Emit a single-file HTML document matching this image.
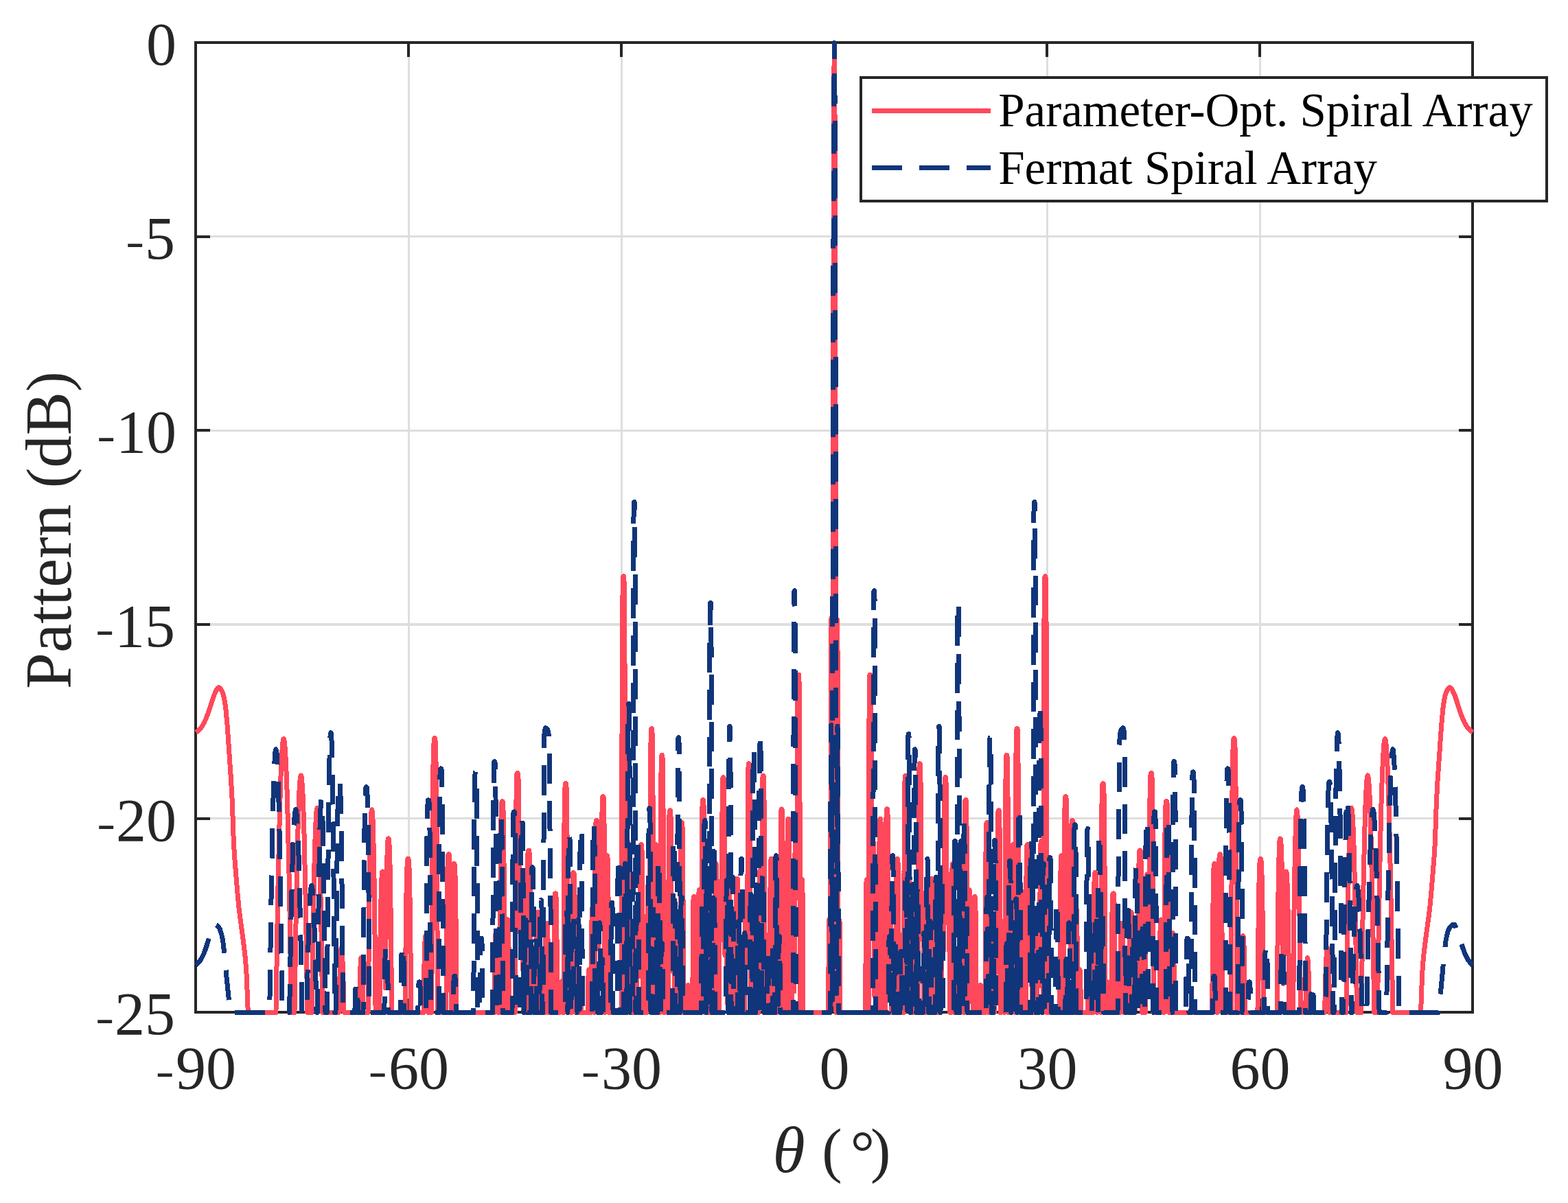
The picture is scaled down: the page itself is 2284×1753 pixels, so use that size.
<!DOCTYPE html>
<html lang="en"><head><meta charset="utf-8">
<title>Pattern (dB) vs θ — Spiral Array Comparison</title>
<style>
html,body{margin:0;padding:0;background:#fff;}
body{width:2284px;height:1753px;overflow:hidden;}
svg{display:block;}
text{font-family:"Liberation Serif","Times New Roman",serif;fill:#262626;}
.tick{font-size:88px;}
.lab{font-size:95px;}
.par{font-size:88px;}
.hy{font-size:64px;}
.leg{font-size:69px;fill:#000;}
</style></head><body>
<svg width="2284" height="1753" viewBox="0 0 2284 1753" shape-rendering="crispEdges">
<rect x="0" y="0" width="2284" height="1753" fill="#fff"/>
<path d="M595.3 62.0V1475.4M905.3 62.0V1475.4M1215.4 62.0V1475.4M1525.4 62.0V1475.4M1835.4 62.0V1475.4M285.3 344.7H2145.4M285.3 627.4H2145.4M285.3 910.0H2145.4M285.3 1192.7H2145.4" fill="none" stroke="#dedede" stroke-width="3.3"/>
<path d="M595.3 62.0v20.5M595.3 1475.4v-20.5M905.3 62.0v20.5M905.3 1475.4v-20.5M1215.4 62.0v20.5M1215.4 1475.4v-20.5M1525.4 62.0v20.5M1525.4 1475.4v-20.5M1835.4 62.0v20.5M1835.4 1475.4v-20.5M285.3 344.7h20.5M2145.4 344.7h-20.5M285.3 627.4h20.5M2145.4 627.4h-20.5M285.3 910.0h20.5M2145.4 910.0h-20.5M285.3 1192.7h20.5M2145.4 1192.7h-20.5" fill="none" stroke="#262626" stroke-width="4"/>
<rect x="285.3" y="62.0" width="1860.1" height="1413.4" fill="none" stroke="#262626" stroke-width="4"/>
<g fill="none" stroke-linejoin="round" stroke-linecap="butt">
<path id="red" d="M285.3 1067L288 1065.4L291.3 1062.4L294.6 1058L297.3 1053.2L299.6 1048.3L302.3 1041.4L311.6 1013.4L315 1006L317 1002.8L318.3 1001.8L319.3 1001.8L320.6 1002.7L322 1004.8L323.8 1008.1L324.8 1010.6L325.8 1014.3L326.8 1019.3L328.3 1028.3L329 1034.5L331.3 1059.2L336.6 1137L338.3 1168.2L340.3 1226.4L341.6 1248.1L345.8 1299.6L347.8 1321.1L349.6 1335.9L353.8 1366.7L356.6 1389.3L357.8 1401.7L359.3 1423.4L361.3 1475.4L401.8 1475.4L402 1472L403.8 1357.7L405.3 1275.2L407.8 1169.4L409 1131.5L410.6 1099L411.8 1082.9L412.6 1078L413 1076.8L413.3 1076.7L413.6 1077.1L414 1079L414.8 1084.8L416 1102.5L417.6 1136.9L418.8 1176.4L421.3 1285.3L424.3 1468.5L424.6 1475.4L428.8 1475.4L429 1472.8L431.3 1327.6L433.6 1222.2L434.8 1180.8L436 1151.7L437 1137.1L437.8 1131.4L438.3 1130L438.6 1130.1L439 1131.7L439.6 1135.2L440.6 1148.1L441.8 1175.3L443 1214.8L445.3 1316.7L447.8 1475.4L454 1475.4L454.3 1471.4L456.3 1338.6L458.3 1245.5L459.3 1213.8L460.3 1192L461 1182.2L461.6 1178.7L461.8 1177.9L462 1177.7L462.6 1179.2L463 1183.2L463.8 1193.7L464.8 1216.5L465.8 1249.2L467.8 1344.3L469.8 1475.4L493.6 1475.4L493.8 1472.4L494.8 1428.7L495.6 1405.2L496.6 1386.2L496.8 1383.6L497.3 1381.2L497.6 1381.3L497.8 1382.2L498.3 1386.8L499.3 1406.5L500.3 1440.3L501 1474.9L501.3 1475.4L523 1475.4L524.6 1417.3L525.3 1401.5L525.8 1396.6L526 1395.8L526.3 1396.2L526.8 1400.2L527.6 1414.6L528.3 1439.2L529 1473.8L529.3 1475.4L536 1475.4L536.3 1471L537.8 1322.8L539 1241.3L540.3 1195.2L541 1182.8L541.3 1181L541.6 1180.1L541.8 1180L542.3 1182.4L542.6 1185.1L543.3 1200.3L544.6 1251.9L545.6 1318.9L547 1465.2L547.3 1475.4L552.6 1475.4L552.8 1471L553.8 1378.5L554.8 1317.2L555.8 1283L556.3 1274.5L556.8 1270.7L557 1270.1L557.3 1270L557.6 1270.5L558.3 1277.3L559.3 1304.3L560.3 1357L561.3 1439.8L562.3 1341.4L563.3 1273.5L563.8 1251.5L564.6 1231.1L565 1224.5L565.3 1222.8L565.6 1222.1L565.8 1221.9L566 1222.1L566.3 1222.8L566.6 1224.5L567 1231.1L567.8 1251.5L568.3 1273.5L569.6 1363.8L570.6 1475.4L590.3 1475.4L591 1381.8L592 1301.5L593 1263L593.8 1252.9L594 1251.8L594.3 1251.4L594.6 1251.4L594.8 1251.5L595 1252.2L595.3 1253.6L595.8 1259.9L596.3 1272.6L596.8 1293.4L597.8 1366.5L598.8 1475.4L617 1475.4L617.8 1414L618.6 1380L619.3 1366.3L619.8 1363.9L620.3 1363.7L620.6 1363.9L620.8 1364.5L621.3 1368.5L622 1386.7L622.8 1427.8L623.3 1472.6L623.6 1475.4L628.6 1475.4L628.8 1466.7L629.6 1291L630.6 1152.5L631 1114.6L631.6 1091.9L632.3 1077.7L632.6 1076.2L632.8 1075.7L633 1075.6L633.6 1075.9L634 1079.2L634.6 1088.9L635 1109L635.6 1143.5L636.6 1272.6L637.6 1475.4L649.8 1475.4L650.8 1338.7L651.6 1278.8L652.3 1252.4L652.8 1246.3L653 1245.2L653.3 1244.8L653.6 1244.7L654 1244.9L654.3 1245.7L654.8 1250.7L655.3 1263.2L655.8 1287.6L656.6 1356.1L657.3 1475.4L657.8 1475.4L658.6 1362.2L659.3 1296.3L660 1267.2L660.6 1260.3L660.8 1259L661 1258.5L661.3 1258.4L661.8 1258.6L662 1259.2L662.6 1263.6L663 1275.5L663.6 1299.3L664.3 1368.3L665 1475.4L719.8 1475.4L720 1472L720.6 1412.1L721 1379.5L721.3 1370.5L721.8 1361.6L722.3 1359.4L722.8 1359.3L723 1359.4L723.3 1359.8L723.8 1364L724.3 1377.4L725.6 1475.4L728 1475.4L728.8 1312.3L729.6 1213.8L730.3 1176.3L730.8 1169.1L731 1168L731.6 1167.6L732 1167.8L732.6 1170.4L733 1180.6L733.8 1227.4L734.6 1342.8L735 1475.4L736.3 1475.4L737 1387.6L737.6 1356.9L738 1343.9L738.6 1340.3L739 1339.9L739.6 1340.1L740 1342.7L740.6 1353.2L740.8 1363.8L741.3 1401.9L741.8 1471.9L742 1475.4L750.3 1475.4L751 1288.4L751.8 1175.5L752.6 1134.8L753 1127.6L753.3 1126.7L753.8 1126.4L754.3 1126.7L754.8 1130L755.3 1143.1L755.6 1156.1L756.3 1239.7L756.8 1350.9L757 1358.5L757.6 1307.8L758.3 1278.3L758.8 1274L759 1273.6L759.6 1273.6L759.8 1273.7L760 1274.3L760.6 1279.8L760.8 1286.5L761.6 1337.9L762.3 1470.8L762.6 1475.4L767 1475.4L767.8 1323.8L768.3 1272.3L768.6 1257.9L769 1243.3L769.6 1239.4L770 1239L770.6 1239.2L771 1241.9L771.6 1253.6L771.8 1265.8L772.3 1310.6L773 1442.6L773.6 1402.4L774 1385.6L774.3 1382.3L774.6 1380.8L774.8 1380.4L775.6 1380.4L775.8 1381L776 1382.6L776.6 1393L776.8 1404.2L777.6 1475.4L780.6 1475.4L781.3 1381.7L781.8 1346.4L782.3 1332.6L782.8 1329.3L783.3 1329L783.8 1329.3L784.3 1332.6L784.8 1346.4L785.3 1381.7L786 1475.4L787.3 1475.4L787.6 1474.8L788.3 1416.5L788.8 1405.2L789 1403.5L789.3 1402.9L789.8 1402.8L790 1402.8L790.3 1403.3L790.6 1404.7L791 1414.5L791.8 1467.8L792 1475.4L793.8 1475.4L794 1468.1L794.6 1395.8L795 1361.2L795.6 1348.4L795.8 1346.2L796 1345.5L796.6 1345.3L797 1345.7L797.6 1349.8L798 1365.9L798.6 1406.6L799 1475.4L800 1475.4L801 1416L801.6 1409.2L801.8 1408.4L802.3 1408.2L802.8 1408.6L803 1409.8L803.6 1418.7L804.3 1470.8L804.6 1475.4L806.3 1475.4L807.3 1332.8L807.6 1318.4L808 1304.9L808.3 1302.7L808.6 1302L809 1301.8L809.3 1301.8L809.6 1302.2L810 1306.5L810.6 1323.4L811 1366.5L811.8 1475.4L815.6 1475.4L816.3 1438.9L816.8 1431.8L817 1431L817.6 1430.8L817.8 1430.8L818 1431.2L818.6 1435.6L819 1453L819.3 1470.9L819.6 1475.4L820.8 1475.4L822 1198.8L822.8 1149.9L823.3 1142.6L823.6 1141.8L824 1141.6L824.3 1141.6L824.6 1142L825 1146.5L825.6 1164.6L825.8 1183.2L826.6 1307.6L827 1475.4L827.3 1475.4L827.8 1408.2L828.3 1374.8L828.8 1363.6L829 1362L829.3 1361.6L829.6 1361.5L830 1361.6L830.3 1362.2L830.6 1364.2L831 1377L831.6 1413.8L832 1475.4L832.6 1475.4L832.8 1458.7L833.3 1351.2L833.8 1298.3L834.3 1277.5L834.8 1272L835 1271.6L835.3 1271.5L835.8 1271.6L836 1272.2L836.3 1274.2L836.8 1287.2L837 1301.9L837.6 1359L838 1473.5L838.3 1475.4L842.8 1475.4L843.6 1437.1L844 1428.4L844.3 1427.4L844.8 1427.2L845.3 1427.5L845.8 1431.9L846.8 1475.4L856.3 1475.4L857 1421.6L857.6 1413.7L857.8 1412.8L858.3 1412.7L858.6 1412.7L858.8 1413.2L859.3 1418.6L860.3 1475.4L860.8 1475.4L861.8 1350.1L862.3 1328.4L862.8 1323L863 1322.6L863.3 1322.5L863.8 1322.7L864 1323.6L864.3 1326.3L864.8 1342.9L865.3 1389.3L865.8 1475.4L866 1470.1L866.8 1272.3L867.3 1219.8L867.8 1200.3L868.3 1195.8L868.6 1195.5L869 1195.5L869.3 1195.8L869.6 1197L870 1207.2L870.3 1219.8L870.8 1272.3L871.3 1383.1L872 1285.9L872.6 1258.1L873 1250.4L873.3 1249.6L873.6 1249.5L874 1249.6L874.3 1250.1L874.8 1256.7L875.3 1281.7L875.8 1344.9L876.8 1193.4L877.3 1167.9L877.8 1161.2L878 1160.7L878.3 1160.6L878.8 1160.7L879 1161.5L879.3 1163.9L879.8 1179.8L880 1197.7L880.6 1267.6L881.3 1475.4L881.6 1475.4L882 1356.2L882.6 1284.6L882.8 1266.2L883.3 1249.9L883.6 1247.4L883.8 1246.6L884.3 1246.5L884.6 1246.6L884.8 1247.2L885.3 1254L885.8 1280.1L886.3 1346.4L886.8 1475.4L905.3 1475.4L906 1072.6L906.6 920.5L906.8 881.6L907.3 846.9L907.6 841.6L907.8 840L908.3 839.7L908.6 839.9L908.8 841.1L909.3 855.7L909.8 911.1L910 967.4L911 1475.4L911.8 1309.1L912.3 1251L912.8 1230.1L913 1226.8L913.3 1225.6L913.8 1225.4L914 1225.4L914.3 1225.9L914.8 1232.4L915.3 1258.7L915.8 1327.2L916.3 1456.3L917 1362.2L917.6 1345.9L917.8 1343.6L918 1343L918.6 1342.9L918.8 1343L919 1344L919.3 1346.8L919.8 1365.7L920.6 1469.5L920.8 1475.4L922.6 1475.4L923.3 1424.2L923.8 1413.8L924 1412.7L924.6 1412.5L924.8 1412.6L925 1413.2L925.6 1420.4L926.3 1475.4L927.6 1475.4L928 1395L928.3 1373.3L928.8 1354L929 1351.1L929.3 1350.2L929.6 1350L930 1350.1L930.3 1350.9L930.6 1353.3L930.8 1359.1L931.3 1390.6L931.6 1422.4L932 1320.4L932.6 1258L933 1235.6L933.3 1232L933.6 1230.8L933.8 1230.5L934.3 1230.6L934.6 1231.1L934.8 1233L935 1238.1L935.6 1266.4L936 1340.3L936.6 1475.4L937.8 1475.4L938.6 1411.3L939 1398.1L939.3 1396.6L939.6 1396.2L939.8 1396.2L940 1396.2L940.3 1396.6L940.8 1402.7L941.3 1429L941.8 1475.4L942.3 1475.4L943 1332.9L943.3 1311.3L943.8 1292.3L944 1289.6L944.3 1288.7L944.8 1288.6L945 1288.7L945.3 1289.6L945.6 1292.5L945.8 1299.2L946.3 1334.2L946.6 1369.3L947.3 1168.6L947.8 1093.1L948.3 1067L948.6 1063.1L948.8 1061.8L949.3 1061.6L949.6 1061.7L949.8 1062.7L950.3 1073.6L950.8 1115.4L951.3 1221.2L951.8 1436.6L952 1475.4L952.3 1475.4L952.8 1333.3L953.3 1262.5L953.8 1236.4L954.3 1230.6L954.6 1230.2L954.8 1230.2L955 1230.2L955.3 1230.7L955.8 1237.3L956.3 1265.5L956.8 1340.4L957.3 1475.4L961.6 1475.4L962.6 1173.5L962.8 1139.8L963.3 1108.1L963.8 1100.8L964 1100.3L964.3 1100.3L964.6 1100.3L964.8 1100.8L965.3 1108.1L965.8 1139.8L966 1173.5L967 1475.4L968.3 1475.4L968.8 1397L969.3 1355.9L969.8 1344.3L970 1343.1L970.6 1342.9L970.8 1342.9L971 1343.7L971.6 1352.5L972 1386.7L972.6 1474.3L972.8 1475.4L973.3 1475.4L974 1283.6L974.6 1212.2L975 1186.6L975.3 1182.5L975.6 1181.1L976 1180.8L976.3 1180.9L976.6 1181.5L977 1189.4L977.6 1221.8L978.6 1414.8L978.8 1384.2L979.3 1355.5L979.8 1348.9L980 1348.5L980.6 1348.5L980.8 1349L981 1350.9L981.6 1366.5L981.8 1385.7L982.3 1465.4L982.6 1475.4L985.8 1475.4L986 1469.3L986.8 1360.5L987.3 1342.5L987.6 1340.2L987.8 1339.6L988 1339.5L988.6 1339.8L988.8 1341.3L989.3 1354.8L990.3 1475.4L990.6 1475.4L991 1330.1L991.6 1241.5L992 1207.6L992.6 1199.2L992.8 1198.6L993 1198.5L993.3 1198.5L993.6 1198.8L993.8 1200.3L994 1204.6L994.6 1231.4L995 1306.3L995.6 1467L995.8 1475.4L1000.8 1475.4L1001.6 1439.5L1001.8 1436.5L1002 1435.6L1002.3 1435.5L1002.8 1435.7L1003 1436.9L1003.3 1440.5L1004 1475.4L1008.6 1475.4L1008.8 1458.2L1009.6 1332.4L1010 1310.6L1010.3 1307.5L1010.6 1306.6L1010.8 1306.5L1011.3 1306.7L1011.6 1307.9L1011.8 1311.6L1012.3 1336.5L1013 1473.1L1013.8 1407.5L1014.3 1395.3L1014.6 1394.1L1014.8 1393.9L1015.3 1394L1015.6 1394.9L1015.8 1398L1016.3 1420.2L1016.6 1445.8L1016.8 1434.3L1017.6 1318.6L1018 1299.7L1018.3 1297.3L1018.6 1296.7L1018.8 1296.6L1019 1296.6L1019.3 1297L1019.6 1298.6L1020 1313.6L1020.6 1364.5L1021 1475.4L1021.6 1475.4L1022 1307.5L1022.6 1211.9L1023 1175.3L1023.6 1166.2L1023.8 1165.6L1024 1165.5L1024.3 1165.5L1024.6 1165.8L1024.8 1167.4L1025 1172.1L1025.6 1201.1L1026 1281.8L1026.6 1455.3L1026.8 1475.4L1027 1475.4L1027.6 1373.6L1028 1313.4L1028.6 1294.3L1028.8 1291.9L1029 1291.3L1029.3 1291.3L1029.6 1291.3L1029.8 1291.6L1030 1293.4L1030.3 1298.4L1030.8 1328.9L1031.6 1475.4L1032.6 1403.9L1032.8 1399.4L1033 1397.9L1033.3 1397.6L1033.6 1397.6L1033.8 1397.6L1034 1398.4L1034.6 1408L1035.3 1475.4L1036.6 1475.4L1037.3 1397.6L1037.8 1384.4L1038 1383.1L1038.6 1382.9L1038.8 1383L1039 1384L1039.6 1394.9L1040.3 1475.4L1041.3 1290.6L1041.8 1263.9L1042 1259.9L1042.3 1258.6L1042.8 1258.4L1043 1258.5L1043.3 1259.5L1043.6 1262.8L1044 1286.2L1044.6 1356.4L1045 1475.4L1047.3 1475.4L1047.8 1357L1048.3 1302.1L1048.8 1285.9L1049 1284L1049.3 1283.7L1049.8 1283.7L1050 1284.3L1050.3 1286.9L1050.8 1306.8L1051.3 1369.8L1052 1183.9L1052.6 1143.4L1053 1133.4L1053.3 1132.7L1053.6 1132.6L1053.8 1132.6L1054 1133L1054.3 1134.7L1054.6 1139.8L1055 1171.9L1056 1392L1056.3 1377.9L1056.8 1368.2L1057 1367.5L1057.6 1367.5L1057.8 1367.8L1058 1369.5L1058.3 1374.5L1058.8 1405.6L1059.3 1462L1060 1322.1L1060.6 1297.8L1060.8 1294.4L1061 1293.4L1061.6 1293.3L1061.8 1293.5L1062 1294.8L1062.3 1299L1062.8 1326.6L1063.6 1475.4L1066.3 1475.4L1066.6 1473.4L1066.8 1424L1067.3 1374.3L1067.8 1360.6L1068 1359.2L1068.6 1359L1068.8 1359.1L1069 1360.1L1069.6 1371.9L1070.6 1475.4L1071.6 1475.4L1072 1363.2L1072.6 1301.7L1073 1282.9L1073.3 1280.7L1073.6 1280.1L1074 1280.1L1074.3 1280.7L1074.6 1282.9L1074.8 1289L1075.3 1325L1076 1475.4L1076.8 1404.1L1077.3 1390.6L1077.6 1389.3L1078 1389.1L1078.3 1389.2L1078.6 1390.3L1079 1402.7L1079.8 1475.4L1081 1475.4L1081.3 1468.8L1081.8 1437.2L1082 1432.2L1082.3 1430.5L1082.6 1430.2L1082.8 1430.2L1083 1430.3L1083.3 1431.1L1083.6 1434.1L1084.3 1475.4L1084.8 1475.4L1085.3 1362.9L1085.6 1332.7L1086 1306.3L1086.3 1302.6L1086.6 1301.4L1087 1301.3L1087.3 1301.5L1087.6 1302.7L1087.8 1306.8L1088.3 1334.5L1088.6 1365.9L1089.6 1145.9L1090 1117.9L1090.3 1114L1090.6 1112.9L1090.8 1112.7L1091.3 1113L1091.6 1114.5L1091.8 1119.3L1092.3 1151.1L1092.8 1243L1093.3 1444.5L1093.6 1475.4L1093.8 1475.4L1094.6 1337L1095 1313.5L1095.3 1310.3L1095.6 1309.4L1095.8 1309.4L1096 1309.4L1096.3 1309.7L1096.6 1311.3L1097 1327.3L1097.6 1382.7L1098 1475.4L1104.8 1475.4L1105.8 1296.6L1106.3 1272.7L1106.6 1269.5L1106.8 1268.6L1107.3 1268.5L1107.6 1268.8L1107.8 1270.5L1108.3 1286.6L1108.8 1342.9L1109.3 1454.8L1109.8 1257.8L1110.3 1167.9L1110.8 1136.7L1111 1132L1111.3 1130.6L1111.8 1130.3L1112 1130.4L1112.3 1131.6L1112.8 1144.6L1113.3 1194.4L1114.3 1475.4L1117 1475.4L1117.8 1379.4L1118.3 1364.3L1118.6 1362.8L1118.8 1362.5L1119.3 1362.7L1119.6 1363.7L1120 1376L1120.6 1423.4L1120.8 1471.6L1121 1475.4L1121.3 1473.4L1122 1293.3L1122.6 1259.1L1122.8 1253.7L1123 1251.8L1123.3 1251.4L1123.6 1251.4L1123.8 1251.5L1124 1252.3L1124.3 1255.3L1124.8 1278.5L1125.3 1350.9L1125.8 1475.4L1128.8 1475.4L1129.6 1428.5L1129.8 1424.1L1130 1422.7L1130.6 1422.4L1130.8 1422.6L1131 1423.7L1131.3 1427.5L1132 1475.4L1132.3 1475.4L1132.6 1470L1133 1370.3L1133.3 1346.7L1133.8 1328.1L1134 1325.9L1134.3 1325.5L1134.8 1325.5L1135 1326.2L1135.6 1336.2L1136 1377.9L1136.3 1421.5L1136.8 1279.9L1137.3 1206.4L1137.8 1182.8L1138 1179.8L1138.3 1179L1138.6 1178.9L1138.8 1178.9L1139 1179.3L1139.3 1181.2L1139.6 1186.7L1140 1221.4L1141 1475.4L1141.3 1475.4L1141.8 1382.2L1142.3 1325.2L1142.8 1309L1143 1307.4L1143.3 1307.1L1143.6 1307.1L1143.8 1307.2L1144 1308.2L1144.6 1320.2L1145 1367.3L1145.6 1475.4L1146 1475.4L1146.8 1256.7L1147.3 1207.4L1147.8 1194.5L1148 1193.3L1148.3 1193.2L1148.8 1193.4L1149 1194.9L1149.3 1199.6L1149.8 1230.4L1150.3 1319.5L1150.8 1475.4L1153.3 1475.4L1154 1403.4L1154.6 1386.8L1154.8 1385.1L1155 1384.8L1155.6 1384.9L1155.8 1385.9L1156 1389.3L1156.6 1414.7L1156.8 1444.6L1157.6 1280.6L1157.8 1252.6L1158.3 1229.2L1158.6 1226.2L1158.8 1225.5L1159.3 1225.4L1159.6 1225.8L1160 1233.6L1160.6 1269.5L1160.8 1308.5L1161 1295.2L1161.8 1039.1L1162.3 992.6L1162.6 985.6L1162.8 983.4L1163 983L1163.3 983L1163.6 983.2L1163.8 984.9L1164.3 1004.4L1164.8 1078.8L1165.6 1428.7L1165.8 1472.5L1166.6 1314.1L1167 1286.6L1167.3 1282.8L1167.6 1281.6L1168 1281.5L1168.3 1281.8L1168.6 1283.3L1168.8 1287.9L1169.3 1319.2L1170 1475.4L1206.6 1475.4L1207.3 1364.3L1207.6 1344.8L1207.8 1340.3L1208.3 1376.3L1208.8 1472.3L1209 1475.4L1209.3 1475.4L1209.6 1463.5L1210.3 1041.6L1210.6 963.5L1210.8 916.6L1211 901L1211.3 916.6L1211.8 1041.6L1212.6 1463.5L1214 400L1214.6 190L1214.8 122.5L1215.3 62.5L1215.6 70L1215.8 102.5L1216.6 350L1217.3 822.5L1218 1475.4L1218.8 1081.6L1219 991L1219.6 903.5L1219.8 906.6L1220.3 1006.6L1221.3 1475.4L1221.8 1475.4L1222.6 1359.2L1222.8 1342.7L1223 1341.2L1223.6 1383.2L1224 1475.4L1260.6 1475.4L1261.6 1305.5L1262 1284.6L1262.3 1282.1L1262.6 1281.5L1262.8 1281.5L1263 1281.5L1263.3 1282.1L1263.6 1284.6L1264 1305.5L1265 1475.4L1265.6 1194.3L1266 1047.6L1266.6 994.9L1266.8 986.5L1267 983.6L1267.3 983L1267.6 983L1267.8 983.1L1268 984.3L1268.3 989L1268.8 1024.7L1269.3 1136.4L1269.8 1329.8L1270 1283L1270.6 1237.6L1271 1226.3L1271.3 1225.5L1271.8 1225.4L1272 1225.8L1272.3 1227.6L1272.8 1245.1L1273 1267.6L1273.8 1450.9L1274.6 1391.9L1274.8 1386.8L1275 1385.1L1275.3 1384.8L1275.8 1384.9L1276 1385.9L1276.6 1397.9L1276.8 1414.9L1277.3 1475.4L1279.8 1475.4L1280.8 1242.3L1281.3 1202.9L1281.8 1193.8L1282 1193.2L1282.3 1193.2L1282.6 1193.2L1282.8 1193.8L1283.3 1202.9L1283.8 1242.3L1284.8 1475.4L1285 1475.4L1286 1325.8L1286.6 1309.2L1286.8 1307.4L1287 1307.1L1287.3 1307.1L1287.6 1307.2L1287.8 1308.1L1288 1311.4L1288.6 1336.4L1289.3 1475.4L1289.6 1475.4L1289.8 1448L1290.6 1234.4L1291 1190.6L1291.6 1179.8L1291.8 1179L1292 1178.9L1292.3 1178.9L1292.6 1179.3L1292.8 1181.2L1293 1186.7L1293.6 1221.4L1294.3 1404.2L1295.3 1331.2L1295.6 1327L1295.8 1325.7L1296 1325.5L1296.6 1325.6L1296.8 1326.9L1297 1331L1297.6 1359.3L1298.3 1475.4L1298.6 1475.4L1298.8 1465.2L1299.3 1430.4L1299.6 1424.8L1299.8 1422.8L1300 1422.4L1300.3 1422.4L1300.6 1422.5L1300.8 1423.3L1301.3 1433.8L1301.8 1475.4L1304.8 1475.4L1305 1453.9L1305.8 1287.8L1306.3 1257.6L1306.6 1253.1L1306.8 1251.6L1307.3 1251.4L1307.6 1251.5L1307.8 1252.6L1308 1256.3L1308.6 1282.9L1309.6 1475.4L1309.8 1475.4L1310.6 1381.7L1311 1364.7L1311.3 1362.9L1311.6 1362.6L1311.8 1362.5L1312 1362.6L1312.3 1363.4L1312.8 1374.3L1313.3 1417.8L1313.6 1462.9L1313.8 1475.4L1316.6 1475.4L1317 1271.7L1317.6 1173.5L1318 1138.3L1318.3 1132.6L1318.6 1130.7L1318.8 1130.3L1319 1130.3L1319.3 1130.4L1319.6 1131.2L1320 1142.2L1320.6 1186.8L1321.3 1404L1321.6 1426.9L1322.3 1293.6L1322.8 1272L1323 1269.2L1323.3 1268.6L1323.8 1268.5L1324 1268.9L1324.6 1276.7L1325 1311.7L1325.8 1475.4L1332.6 1475.4L1332.8 1465.6L1333.6 1334.1L1334 1312.8L1334.3 1310.1L1334.6 1309.4L1334.8 1309.4L1335 1309.4L1335.3 1309.8L1335.6 1311.8L1336 1329.5L1336.8 1446.7L1337 1475.4L1337.3 1475.4L1337.8 1272.7L1338.3 1163.3L1338.8 1122.7L1339.3 1113.3L1339.6 1112.7L1339.8 1112.7L1340 1112.7L1340.3 1113.3L1340.8 1122.7L1341.3 1163.3L1342 1369L1342.6 1322.3L1343 1303.9L1343.3 1301.8L1343.6 1301.3L1344 1301.3L1344.3 1301.9L1344.8 1310.9L1345.3 1349L1346 1475.4L1346.3 1475.4L1346.6 1465.8L1347 1436.4L1347.3 1431.9L1347.6 1430.5L1348 1430.2L1348.3 1430.3L1348.6 1431.3L1348.8 1434.7L1349.6 1475.4L1350.8 1475.4L1351 1465.7L1351.3 1429.8L1351.8 1396.7L1352 1391.4L1352.3 1389.5L1352.6 1389.1L1352.8 1389.1L1353 1389.1L1353.3 1389.8L1353.8 1399.5L1354.6 1475.4L1355.6 1309.5L1356 1284.7L1356.3 1281.2L1356.6 1280.2L1357 1280.1L1357.3 1280.3L1357.6 1281.7L1358 1295.6L1358.6 1345.8L1359 1469.5L1359.3 1475.4L1360.3 1475.4L1361 1377.2L1361.6 1361.1L1361.8 1359.3L1362 1359L1362.3 1359L1362.6 1359.1L1362.8 1359.8L1363 1362.6L1363.6 1384.1L1364.3 1475.4L1367 1475.4L1367.8 1337.2L1368.3 1302L1368.6 1296L1368.8 1293.8L1369 1293.3L1369.6 1293.3L1369.8 1293.8L1370 1296L1370.6 1314.5L1371.6 1458L1372 1392.1L1372.6 1371L1372.8 1368.2L1373 1367.5L1373.6 1367.5L1373.8 1367.8L1374 1369.5L1374.3 1374.4L1374.6 1385.3L1374.8 1381.2L1375.6 1183.9L1376 1143.4L1376.6 1133.4L1376.8 1132.7L1377 1132.6L1377.3 1132.6L1377.6 1133L1377.8 1134.7L1378 1139.8L1378.6 1171.9L1379.3 1340.7L1379.6 1344.3L1380 1297.7L1380.6 1285L1380.8 1283.8L1381 1283.6L1381.6 1283.8L1381.8 1284.9L1382.3 1296.8L1382.8 1341.4L1383.3 1453.4L1383.6 1475.4L1385.6 1475.4L1385.8 1454.5L1386.6 1295.4L1387 1265.2L1387.3 1260.4L1387.6 1258.7L1387.8 1258.4L1388 1258.4L1388.3 1258.5L1388.6 1259.2L1388.8 1261.8L1389.3 1282.3L1389.8 1346.3L1390.3 1475.4L1391 1399.9L1391.6 1384.9L1391.8 1383.2L1392 1382.9L1392.3 1382.9L1392.6 1383L1392.8 1383.7L1393.3 1393.2L1393.8 1431.3L1394 1470.8L1394.3 1475.4L1395.3 1475.4L1396 1412.5L1396.6 1399.1L1396.8 1397.8L1397.3 1397.6L1397.6 1397.7L1397.8 1398.5L1398.3 1409.1L1399 1475.4L1400 1315.7L1400.6 1294.9L1400.8 1292.1L1401 1291.3L1401.3 1291.3L1401.8 1291.5L1402 1293L1402.6 1307.2L1403 1356.6L1403.6 1475.4L1404 1475.4L1404.6 1307.5L1405 1211.9L1405.6 1175.3L1406 1166.2L1406.3 1165.6L1406.6 1165.5L1406.8 1165.5L1407 1165.8L1407.3 1167.4L1407.6 1172.1L1408 1201.1L1408.6 1281.8L1409 1455.3L1409.3 1475.4L1409.6 1475.4L1410.6 1320L1411 1300L1411.3 1297.4L1411.6 1296.7L1411.8 1296.6L1412.3 1296.9L1412.6 1298.4L1413 1312.5L1413.6 1361.5L1414 1460L1414.3 1428.9L1414.8 1400.4L1415 1395.8L1415.3 1394.2L1415.6 1393.9L1416 1393.9L1416.3 1394.6L1416.8 1403.4L1417 1416.2L1417.6 1475.4L1418 1379.6L1418.6 1325.5L1419 1309L1419.3 1307L1419.6 1306.5L1420 1306.5L1420.3 1307L1420.6 1309L1420.8 1314.3L1421.3 1346L1422 1475.4L1426.6 1475.4L1426.8 1474.2L1427.3 1443.1L1427.8 1436L1428 1435.5L1428.3 1435.5L1428.6 1435.5L1428.8 1436L1429.3 1443.1L1429.8 1474.2L1430 1475.4L1435 1475.4L1435.6 1330.1L1436 1241.5L1436.6 1207.6L1437 1199.2L1437.3 1198.6L1437.6 1198.5L1437.8 1198.5L1438 1198.8L1438.3 1200.3L1438.6 1204.6L1439 1231.4L1439.6 1306.3L1440 1467L1440.3 1475.4L1440.6 1469.5L1441.3 1360.6L1441.8 1342.6L1442 1340.2L1442.3 1339.6L1442.6 1339.5L1443 1339.8L1443.3 1341.3L1443.8 1354.8L1444.8 1475.4L1448.3 1475.4L1448.8 1396.5L1449 1372.9L1449.6 1352.4L1449.8 1349.5L1450 1348.6L1450.6 1348.5L1450.8 1348.6L1451 1349.7L1451.3 1353L1451.8 1375.5L1452.3 1416.6L1452.8 1273.4L1453.3 1208.1L1453.8 1185.5L1454 1182.1L1454.3 1181L1454.8 1180.8L1455 1180.9L1455.3 1181.7L1455.8 1191.2L1456.3 1227.4L1456.8 1319L1457.3 1475.4L1458 1475.4L1458.6 1398.9L1459 1356.5L1459.6 1344.4L1459.8 1343.1L1460.3 1342.9L1460.6 1342.9L1460.8 1343.6L1461 1346L1461.6 1363.9L1462.3 1470.7L1462.6 1475.4L1463.6 1475.4L1463.8 1456.9L1464.3 1252L1464.8 1151.4L1465.3 1111.7L1465.8 1101.3L1466 1100.4L1466.3 1100.3L1466.8 1100.5L1467 1101.7L1467.3 1105.4L1467.8 1130.3L1468 1158.1L1468.6 1267L1469 1475.4L1473.3 1475.4L1474.3 1275.7L1474.8 1240.6L1475.3 1231.2L1475.6 1230.3L1475.8 1230.2L1476.3 1230.4L1476.6 1231.3L1476.8 1234.3L1477.3 1254.6L1477.8 1314.1L1478.3 1445.2L1478.6 1475.4L1478.8 1475.4L1479.3 1253.9L1479.8 1130.1L1480 1097.9L1480.6 1068.3L1480.8 1063.6L1481 1061.9L1481.3 1061.6L1481.6 1061.6L1481.8 1061.7L1482 1062.4L1482.6 1071.6L1483 1109L1483.6 1206.5L1484 1387.9L1484.6 1319.6L1485 1294.6L1485.6 1289L1485.8 1288.6L1486.3 1288.6L1486.6 1289.1L1486.8 1290.9L1487 1295.6L1487.6 1322.9L1487.8 1351.8L1488.3 1459.5L1488.6 1475.4L1488.8 1475.4L1489 1471.8L1489.3 1438.6L1489.8 1405.7L1490.3 1397L1490.6 1396.3L1490.8 1396.2L1491.3 1396.3L1491.6 1397.3L1492 1407L1492.8 1475.4L1494 1475.4L1495 1276.6L1495.3 1254.4L1495.8 1234.6L1496 1231.6L1496.3 1230.7L1496.8 1230.5L1497 1230.6L1497.3 1231.3L1497.8 1239.6L1498.3 1271.3L1499 1420.2L1499.6 1377.4L1500 1355.1L1500.3 1351.5L1500.6 1350.3L1500.8 1350.1L1501.3 1350.1L1501.6 1350.6L1502 1357.4L1502.6 1385L1503.3 1475.4L1504.3 1475.4L1505 1423.8L1505.6 1413.7L1505.8 1412.7L1506.3 1412.5L1506.6 1412.6L1506.8 1413.2L1507.3 1420.7L1508 1475.4L1510 1475.4L1510.8 1373L1511 1357.4L1511.6 1344.8L1511.8 1343.3L1512 1342.9L1512.6 1342.9L1512.8 1343.2L1513.3 1348.7L1513.8 1372.3L1514.3 1436.2L1514.6 1416.8L1515 1300.5L1515.6 1247.5L1516 1229.2L1516.3 1226.4L1516.6 1225.5L1517 1225.4L1517.3 1225.5L1517.6 1226.2L1518 1233.9L1518.6 1263.4L1519 1338L1519.6 1475.4L1519.8 1418.9L1520.3 1095L1520.8 930.7L1521.3 862.3L1521.8 842.3L1522 840.1L1522.3 839.7L1522.8 839.8L1523 840.7L1523.6 852.9L1524 902.6L1524.3 954.1L1524.8 1144.7L1525.3 1475.4L1543.8 1475.4L1544.8 1289.4L1545 1269.2L1545.6 1250.7L1545.8 1247.7L1546 1246.7L1546.6 1246.5L1546.8 1246.5L1547 1247L1547.6 1252.7L1548 1276.1L1548.6 1337.2L1549 1463.6L1549.3 1475.4L1549.6 1447.1L1550 1289L1550.6 1207.6L1550.8 1186L1551.3 1165.6L1551.8 1160.9L1552.3 1160.6L1552.8 1160.9L1553.3 1165.6L1553.8 1186L1554.3 1240.7L1554.8 1356.3L1555.3 1290.5L1555.8 1259.7L1556.3 1250.7L1556.6 1249.7L1556.8 1249.5L1557.3 1249.5L1557.6 1249.9L1557.8 1251.5L1558.3 1263.5L1558.6 1277.8L1559.3 1386.8L1560 1251.7L1560.6 1211.4L1560.8 1202.5L1561.3 1196.1L1561.6 1195.6L1562 1195.5L1562.3 1195.6L1562.6 1196.4L1563 1203.9L1563.6 1231.1L1563.8 1258.1L1564.8 1475.4L1565.8 1349.1L1566.3 1328.1L1566.8 1323L1567 1322.6L1567.3 1322.5L1567.8 1322.8L1568 1323.7L1568.3 1326.5L1568.8 1343.7L1569.3 1391.2L1569.8 1475.4L1570.3 1475.4L1570.6 1474.6L1570.8 1448.1L1571.3 1421.2L1571.8 1413.6L1572 1412.8L1572.6 1412.7L1572.8 1412.7L1573 1413.2L1573.6 1419L1574.6 1475.4L1584 1475.4L1584.8 1434L1585.3 1427.9L1585.6 1427.3L1585.8 1427.2L1586.3 1427.3L1586.6 1427.9L1587 1434.2L1587.8 1475.4L1592.6 1475.4L1593.6 1309.9L1593.8 1292.2L1594.3 1275.6L1594.8 1271.8L1595.3 1271.5L1595.8 1271.8L1596.3 1275.6L1596.8 1292.2L1597 1309.9L1598 1475.4L1598.6 1475.4L1598.8 1464.2L1599.3 1399.2L1599.8 1371.4L1600.3 1362.8L1600.6 1361.7L1601 1361.5L1601.6 1361.7L1602 1365.5L1602.6 1381.7L1603.3 1463.4L1603.6 1475.4L1604.3 1272L1604.8 1193.2L1605 1171L1605.6 1148.6L1606 1142.3L1606.3 1141.7L1606.8 1141.6L1607 1141.7L1607.3 1142.1L1607.8 1147.5L1608.3 1167.6L1608.6 1188L1609 1261.6L1609.8 1475.4L1611.3 1475.4L1612 1437.6L1612.6 1431.5L1612.8 1430.9L1613.3 1430.8L1613.6 1430.9L1613.8 1431.3L1614.3 1436.5L1614.8 1456L1615 1475.4L1619 1475.4L1619.6 1379.8L1620 1329.4L1620.3 1316.2L1620.8 1304.3L1621 1302.5L1621.3 1301.9L1621.8 1301.8L1622 1301.9L1622.3 1302.3L1622.8 1307.4L1623.3 1326.2L1623.8 1372.9L1624.3 1466.6L1624.6 1475.4L1626.3 1475.4L1626.8 1435L1627.3 1414.7L1627.8 1408.9L1628 1408.3L1628.6 1408.2L1628.8 1408.3L1629 1408.8L1629.3 1410.3L1629.8 1420.6L1630.6 1475.4L1631.6 1475.4L1632.3 1390.9L1632.8 1359.2L1633.3 1347.8L1633.6 1346L1633.8 1345.4L1634.3 1345.3L1634.6 1345.4L1634.8 1345.8L1635.3 1350.7L1635.8 1368.7L1636.8 1475.4L1638.8 1475.4L1639.6 1418.2L1640 1405.7L1640.6 1402.9L1641 1402.8L1641.3 1402.8L1641.6 1403.1L1641.8 1404.3L1642.3 1413.1L1643.3 1475.4L1644.6 1475.4L1644.8 1473.8L1645.3 1392.6L1645.8 1351.3L1646.3 1334.3L1646.8 1329.5L1647 1329.1L1647.3 1329L1647.8 1329.1L1648 1329.7L1648.3 1331.4L1648.8 1342.3L1649 1354.1L1649.6 1398.6L1650 1475.4L1653 1475.4L1653.8 1410.2L1654 1396.8L1654.6 1383.8L1655 1380.5L1655.3 1380.3L1655.8 1380.3L1656 1380.6L1656.3 1381.6L1656.6 1384L1657 1397.6L1657.6 1432.1L1657.8 1418.3L1658.3 1323.8L1658.8 1272.3L1659 1257.9L1659.6 1243.3L1660 1239.4L1660.6 1239L1661 1239.2L1661.6 1241.9L1662 1253.6L1662.3 1265.8L1662.8 1310.6L1663.6 1457.8L1663.8 1475.4L1668.3 1475.4L1669.3 1322.6L1669.8 1290.3L1670.3 1277.3L1670.8 1273.8L1671.3 1273.6L1671.8 1273.8L1672.3 1276.8L1672.6 1281.2L1673.3 1319.6L1673.8 1380.3L1674.3 1257.7L1675 1163L1675.8 1131.6L1676.3 1126.9L1676.6 1126.5L1676.8 1126.4L1677.3 1126.5L1677.6 1127.1L1677.8 1128.9L1678.3 1139.3L1679 1190.8L1679.8 1324.1L1680.3 1475.4L1688.8 1475.4L1689.6 1387.6L1690 1356.9L1690.6 1343.9L1691 1340.3L1691.6 1339.9L1692 1340.1L1692.6 1342.7L1693 1353.2L1693.3 1363.8L1693.8 1401.9L1694.3 1471.9L1694.6 1475.4L1695.6 1475.4L1696.3 1312.3L1697 1213.8L1697.8 1176.3L1698.3 1169.1L1698.6 1168L1699 1167.6L1699.6 1167.8L1700 1170.4L1700.6 1180.6L1701.3 1227.4L1702 1342.8L1702.6 1475.4L1705.3 1475.4L1705.8 1416.7L1706.3 1381.9L1706.6 1372L1707 1362L1707.6 1359.5L1708 1359.3L1708.6 1359.7L1709 1363.2L1709.6 1375.4L1710 1403.8L1710.8 1475.4L1765.6 1475.4L1765.8 1463L1766.6 1350.6L1767.3 1290.6L1768 1265.2L1768.6 1259.7L1768.8 1258.7L1769.3 1258.4L1769.8 1258.7L1770 1259.7L1770.6 1265.2L1771.3 1290.6L1772 1350.6L1772.8 1463L1773 1475.4L1773.3 1475.4L1774.3 1338.7L1775 1278.8L1775.8 1252.4L1776.3 1246.3L1776.6 1245.2L1776.8 1244.8L1777 1244.7L1777.6 1244.9L1777.8 1245.7L1778.3 1250.7L1778.8 1263.2L1779.3 1287.6L1780 1356.1L1780.8 1475.4L1793 1475.4L1793.3 1466.7L1794 1291L1795 1152.5L1795.6 1114.6L1796 1091.9L1796.8 1077.7L1797 1076.2L1797.3 1075.7L1797.6 1075.6L1798 1075.9L1798.6 1079.2L1799 1088.9L1799.6 1109L1800 1143.5L1801 1272.6L1802 1475.4L1807.3 1475.4L1808 1417.3L1808.8 1381.5L1809.6 1366.8L1810 1364L1810.6 1363.7L1810.8 1363.8L1811 1364.3L1811.6 1367.9L1812.3 1384.8L1813.8 1475.4L1831.8 1475.4L1832 1469.8L1833 1352.5L1834 1286.2L1834.6 1268L1835 1257.5L1835.6 1252.6L1835.8 1251.7L1836 1251.4L1836.3 1251.4L1836.6 1251.6L1836.8 1252.4L1837 1254L1837.6 1260.9L1838.6 1296L1839.3 1348.1L1840.3 1462.5L1840.6 1475.4L1860 1475.4L1861.3 1350.1L1862.3 1278.9L1862.8 1255.3L1863.6 1233L1864 1225.4L1864.3 1223.4L1864.8 1221.9L1865 1221.9L1865.3 1222.4L1865.6 1223.7L1866 1229.4L1866.8 1248L1867.3 1268.6L1868.3 1333.1L1869.3 1433.3L1869.6 1425.3L1870.6 1347.3L1871.6 1298.7L1872.6 1275.2L1873 1270.9L1873.3 1270.1L1873.6 1270L1873.8 1270.3L1874.3 1273.4L1874.6 1276.5L1875 1286.6L1876 1324.6L1876.8 1371L1878 1475.4L1883.6 1475.4L1885 1326.9L1886.3 1243.9L1887.6 1196.4L1888.3 1183.3L1888.6 1181.3L1888.8 1180.2L1889 1180L1889.6 1182L1889.8 1184.5L1890.6 1199L1891.8 1249.2L1893 1335.1L1894.6 1475.4L1901.6 1475.4L1903 1417.3L1903.8 1401.5L1904.3 1396.6L1904.6 1395.8L1904.8 1396.2L1905.3 1400.2L1906 1414.6L1906.8 1439.2L1907.6 1473.8L1907.8 1475.4L1929.6 1475.4L1930.8 1425.1L1931.6 1402.7L1932.3 1388.1L1932.8 1382.9L1933 1381.5L1933.3 1381.1L1933.6 1381.5L1933.8 1382.9L1934.3 1388.1L1935 1402.7L1935.8 1425.1L1937 1475.4L1960.8 1475.4L1961 1467.6L1963.3 1322.1L1965 1243.7L1966 1212.5L1967 1191.2L1967.8 1181.7L1968.3 1178.5L1968.6 1177.8L1968.8 1177.7L1969.3 1179.5L1969.8 1183.7L1970.8 1199.5L1971.8 1225.3L1972.6 1251.1L1974.3 1333L1976.6 1475.4L1982.8 1475.4L1985.3 1322.1L1987.6 1218.5L1988.8 1178L1989.8 1154.5L1991 1136.1L1991.8 1131L1992.3 1130L1992.8 1131L1993.6 1136.1L1994.8 1154.5L1995.8 1178L1997 1218.5L1999.3 1322.1L2001.8 1475.4L2006.3 1475.4L2009.3 1290.5L2010.8 1219.4L2012 1171.2L2013.3 1132.8L2014.8 1099.9L2016 1083.4L2016.8 1078.3L2017.3 1076.8L2017.6 1076.7L2018 1077.7L2018.3 1078.7L2019 1084.3L2020.3 1101.6L2021.6 1128.9L2023 1174.7L2024.3 1223.7L2025.8 1295.8L2028.8 1475.4L2069.3 1475.4L2069.6 1474.1L2071.6 1420.3L2072.8 1402.8L2074 1390.1L2077 1365.4L2081 1336.6L2082.8 1322.1L2084.8 1300.8L2089 1249.4L2090.3 1228.8L2092.3 1170.5L2094 1138.5L2099.6 1057.4L2101.8 1033.1L2102.6 1027.3L2104 1018.4L2105 1013.7L2106 1010.1L2108.8 1004.5L2110 1002.8L2111.3 1001.8L2112.3 1001.8L2113.6 1002.7L2115.6 1005.8L2119.3 1013.8L2128.3 1041.1L2131 1048.1L2133.3 1053L2136 1057.8L2139.3 1062.3L2142.6 1065.3L2145.3 1067" stroke="#ff485b" stroke-width="7"/>
<path d="M285.3 1406.5L288.8 1403.2L291.3 1400.2L293.8 1396.1L296.6 1390.4L299.3 1383.2L306.8 1360.4L310.3 1350.6L311.3 1348.4L312 1347.3L312.6 1347L313.8 1347.2L315.3 1347.9L316.8 1349.1L318.8 1351.1L320.3 1353.9L322.6 1361.2L323.8 1366.5L324.6 1370.6L327.3 1392.9L330 1423.7L335.3 1475.4L392.6 1475.4L392.8 1467.1L395.3 1289.2L397.6 1177.6L398.6 1142.7L399.8 1111.8L400.8 1097.3L401.3 1093.4L401.8 1091.8L402 1091.9L402.8 1095.5L403.3 1100.7L404.3 1117.9L405.3 1144.2L406.6 1189.8L408.6 1292.2L411 1471.3L411.3 1475.4L421.6 1475.4L424 1337L426.3 1248.5L427.3 1220.7L428.6 1196L429.6 1184.2L430.3 1180.1L430.6 1179.6L430.8 1179.5L431.3 1180.8L432 1186L433 1199.2L434.3 1225.7L435.3 1254.9L437.6 1346.6L439.8 1474.5L440 1475.4L446.6 1475.4L446.8 1470.6L448.8 1383.4L450.3 1336.8L451 1319.5L452 1302.7L453 1293.1L453.3 1291.8L453.8 1290.5L454 1290.6L454.3 1291.1L454.8 1293.4L455.6 1300.2L457 1325.9L458 1352L459 1385.2L461 1473.1L461.3 1475.4L462.3 1475.4L462.6 1464.7L464 1324L465.3 1241.1L466 1206.1L466.8 1182L467.6 1168.4L467.8 1166.2L468 1165.1L468.3 1165L468.8 1167.9L469 1171L469.8 1187.4L471 1238.5L472.3 1320.1L474 1475.4L476.3 1475.4L477.8 1272.1L479 1155.7L480.3 1090.8L481 1073L481.3 1070.1L481.8 1067.7L482 1067.8L482.3 1068.6L482.6 1070.6L483.3 1084.6L484 1113.5L484.8 1159.3L486 1277.9L487.6 1475.4L489 1475.4L490.3 1311.6L491.6 1205.8L492 1179.1L492.8 1153.3L493.6 1141.3L493.8 1139.7L494 1139L494.3 1138.8L494.6 1139L494.8 1139.7L495 1141.3L495.8 1153.3L496.6 1179.1L497 1205.8L498.3 1311.6L499.6 1475.4L516.8 1475.4L517.6 1450.3L518 1439.7L518.6 1435L518.8 1434.2L519.3 1433.9L519.6 1434.1L519.8 1434.8L520 1436.3L520.6 1443.1L521.6 1475.4L529 1475.4L530.3 1281.8L531 1208.1L531.6 1178.2L532 1160.1L532.8 1148.4L533 1147.2L533.3 1146.7L533.6 1146.6L534 1146.9L534.3 1147.8L535 1157.6L535.6 1173.7L536 1201L537 1301.4L538 1475.4L559.8 1475.4L561 1396L561.8 1381L562.3 1378.9L562.8 1378.7L563 1378.8L563.3 1379.3L563.8 1383.2L564.3 1394.3L564.8 1417.4L565.6 1475.4L583.6 1475.4L583.8 1473.8L584.3 1423.4L584.8 1395.8L585.3 1383.2L585.8 1379.2L586 1378.8L586.3 1378.7L586.8 1378.8L587.3 1380.9L587.8 1389.4L588 1397.7L589 1475.4L608.8 1475.4L609.6 1441.1L610 1432.7L610.3 1431.3L610.6 1430.9L610.8 1430.8L611.3 1430.9L611.6 1431.5L612 1436.5L613 1475.4L620.8 1475.4L621.6 1286.7L622 1218.7L622.8 1175.2L623.3 1167.2L623.6 1166.1L624 1165.7L624.6 1165.9L624.8 1166.6L625.3 1172.7L626 1209.6L626.6 1269.7L627.3 1451.4L627.6 1475.4L639 1475.4L639.8 1260.5L640.3 1179L641 1129.4L641.6 1121.2L641.8 1120.2L642.3 1119.9L642.8 1120.2L643 1121.2L643.6 1129.4L644.3 1179L644.8 1260.5L645.6 1475.4L660 1475.4L660.3 1473.8L660.6 1451.6L661 1429.2L661.6 1422.9L661.8 1422.3L662.3 1422.2L662.6 1422.3L662.8 1422.7L663.3 1428.1L664.3 1475.4L689.8 1475.4L690.6 1264.1L691 1175.8L691.3 1152.3L691.8 1130.2L692.3 1125.1L692.6 1124.8L692.8 1124.8L693 1124.8L693.3 1125.1L693.8 1130.2L694.3 1152.3L694.6 1175.8L695 1264.1L695.8 1475.4L698.8 1475.4L699.3 1412.8L699.8 1378.4L700.3 1368.4L700.6 1367.3L701 1367.1L701.3 1367.1L701.6 1367.6L701.8 1369.3L702.3 1382.7L703 1463.7L703.3 1475.4L717.6 1475.4L718.3 1246.6L718.8 1155.8L719.3 1119.9L719.8 1110.5L720 1109.7L720.3 1109.6L720.8 1109.8L721 1110.9L721.3 1114.2L721.8 1136.7L722 1161.8L722.6 1260.1L723 1456.9L723.3 1475.4L727 1475.4L728 1242L728.3 1217.7L728.8 1196.1L729 1192.8L729.3 1191.8L729.8 1191.6L730 1191.7L730.3 1192.5L730.8 1201.6L731.3 1236.2L731.8 1323.9L732.3 1475.4L746 1475.4L746.8 1284.1L747.3 1212.7L747.8 1187.9L748 1184.2L748.3 1183L748.8 1182.8L749 1182.9L749.3 1183.8L749.8 1194.2L750.3 1233.7L751.3 1475.4L757.8 1475.4L758.8 1237.2L759.3 1203.1L759.8 1195.2L760 1194.7L760.3 1194.7L760.6 1194.7L760.8 1195.2L761.3 1203.1L761.8 1237.2L762.8 1475.4L763.3 1475.4L763.6 1467.3L764.3 1358.5L764.8 1342.3L765 1340.5L765.3 1340.1L765.6 1340.1L765.8 1340.2L766 1340.9L766.3 1343.6L766.8 1364.5L767.6 1475.4L773.3 1475.4L774.3 1290.2L774.8 1267.6L775 1264.6L775.3 1263.9L775.6 1263.8L775.8 1263.8L776 1264.2L776.3 1266L776.6 1271.3L777 1304.7L777.8 1475.4L778 1475.4L778.8 1381.6L779.3 1363.8L779.6 1361.8L779.8 1361.4L780 1361.4L780.3 1361.5L780.6 1362.3L781 1372.7L782 1475.4L785.8 1475.4L786.8 1331.9L787.3 1313.6L787.6 1311.6L787.8 1311.2L788 1311.2L788.3 1311.3L788.6 1312.1L789 1323.3L789.6 1368.8L790 1475.4L790.8 1475.4L791 1462.8L791.8 1373L792 1226.5L792.6 1095.5L793 1068.7L793.8 1062.9L794.3 1061.1L794.8 1060.7L795.6 1061L796.3 1061.6L797.6 1063.3L798.3 1065.4L799 1069.1L799.6 1075.3L800 1092.7L802 1321.2L802.6 1475.4L823 1475.4L823.3 1463.1L823.6 1401.7L824 1341.6L824.6 1326.1L824.8 1324.9L825 1324.7L825.3 1324.7L825.6 1325.1L825.8 1327.2L826.3 1347.6L827 1475.4L827.8 1263.9L828.3 1223.9L828.6 1217.9L828.8 1216L829 1215.7L829.3 1215.7L829.6 1215.9L829.8 1217.3L830 1222.2L830.6 1257.4L831.3 1459.6L831.6 1475.4L832.3 1475.4L832.8 1377.5L833.3 1337.4L833.6 1331.5L833.8 1329.6L834 1329.3L834.3 1329.3L834.6 1329.5L834.8 1331.1L835.3 1348.7L836 1475.4L840.3 1475.4L841.3 1351.2L841.6 1343.3L841.8 1340.5L842 1339.9L842.3 1339.9L842.6 1340L842.8 1341.1L843.3 1355.7L843.8 1415.7L844 1475.4L844.8 1260L845.3 1216.5L845.6 1209.9L845.8 1207.8L846 1207.5L846.3 1207.5L846.6 1207.7L846.8 1209.3L847 1214.6L847.6 1252.9L848.3 1473.1L848.6 1475.4L862.8 1475.4L863.6 1251.2L864 1209.5L864.3 1203.6L864.6 1201.9L864.8 1201.7L865 1201.7L865.3 1202.1L865.6 1204.4L866 1227.8L866.6 1312.2L867 1475.4L867.8 1475.4L868.6 1425.8L868.8 1422L869 1421.1L869.3 1421.1L869.6 1421.1L869.8 1422L870 1426L870.8 1475.4L871.6 1475.4L872.3 1367.2L872.8 1346.5L873 1344.7L873.3 1344.5L873.6 1344.5L873.8 1344.9L874 1347.3L874.3 1354.7L875.3 1475.4L875.8 1475.4L876 1436.3L876.6 1402.6L876.8 1398.5L877 1397.6L877.3 1397.5L877.6 1397.6L877.8 1398.5L878.3 1413.1L878.8 1475.4L889.3 1475.4L889.6 1471.8L889.8 1399.6L890.3 1331.7L890.8 1316L891 1315.1L891.3 1315L891.6 1315.1L891.8 1316L892.3 1331.7L892.8 1399.6L893 1471.8L893.3 1475.4L899.3 1475.4L899.6 1378.5L900 1279.9L900.6 1252.6L900.8 1249.9L901 1249.5L901.3 1249.5L901.6 1249.8L901.8 1251.8L902.3 1275L902.8 1363.5L903 1453.3L903.3 1475.4L908.8 1475.4L909.6 1297.5L910 1262.7L910.3 1258.8L910.6 1258L910.8 1258L911 1258.1L911.3 1259.5L911.8 1278.6L912.8 1475.4L913.6 1475.4L914 1211.4L914.6 1069.4L915 1030L915.3 1026.1L915.6 1025.5L915.8 1025.5L916 1025.9L916.3 1028.8L916.6 1038.6L917 1108.8L917.8 1475.4L921.8 1475.4L922.6 873.5L923 753.8L923.3 737L923.6 732.1L923.8 731.5L924 731.5L924.3 732.6L924.6 739.1L924.8 759.5L925.3 895.7L926 1475.4L926.6 1475.4L927.3 1261.6L927.8 1229.3L928 1226L928.3 1225.4L928.6 1225.4L928.8 1225.6L929 1227.6L929.6 1251.6L930.6 1475.4L944 1475.4L944.8 1236.2L945.3 1186.1L945.6 1179.6L945.8 1177.9L946 1177.7L946.3 1177.7L946.6 1178.5L946.8 1182.6L947.3 1220.2L948 1473.8L948.3 1475.4L948.8 1475.4L949.6 1333.3L950 1311.3L950.3 1309.8L950.6 1309.7L950.8 1309.7L951 1310.6L951.3 1315.2L951.6 1327.9L952.3 1475.4L954.3 1475.4L955 1376.5L955.3 1366.5L955.6 1363.3L955.8 1362.8L956 1362.8L956.3 1363.1L956.6 1365.6L956.8 1374L957.6 1475.4L957.8 1475.4L958.6 1291.9L959 1258.3L959.3 1255L959.6 1254.5L959.8 1254.5L960 1254.8L960.3 1257.3L960.8 1285.8L961.6 1475.4L962.6 1475.4L963 1394.7L963.6 1375.5L963.8 1374.4L964 1374.3L964.3 1374.4L964.6 1375.8L965 1397.2L965.6 1475.4L979.8 1475.4L980.6 1264.4L981 1228.6L981.3 1225.1L981.6 1224.5L981.8 1224.5L982 1224.8L982.3 1227.5L982.8 1257.9L983.6 1475.4L986.3 1475.4L987.3 1116L987.8 1078.4L988 1075.1L988.3 1074.7L988.6 1074.7L988.8 1075.4L989 1079.7L989.6 1124.1L990 1284L990.3 1442.7L990.6 1475.4L991 1475.4L991.3 1458.7L991.6 1383.8L992 1319.1L992.3 1310.1L992.6 1307.5L992.8 1307.2L993 1307.2L993.3 1307.9L993.6 1311.6L993.8 1323.2L994.3 1399.5L994.6 1475.4L1021.6 1475.4L1022.3 1340.6L1022.6 1324.8L1022.8 1319.1L1023 1317.8L1023.6 1317.9L1023.8 1319.7L1024.3 1345.8L1024.8 1455.2L1025.6 1240.2L1026 1200.1L1026.3 1196.2L1026.6 1195.5L1026.8 1195.5L1027 1195.9L1027.3 1198.8L1027.8 1232.9L1028.6 1475.4L1029 1475.4L1029.6 1318.3L1030 1240.7L1030.3 1229.4L1030.6 1225.9L1030.8 1225.4L1031 1225.4L1031.3 1225.9L1031.6 1229.3L1032 1266.4L1032.8 1475.4L1033 1475.4L1033.8 975.8L1034.3 889.4L1034.6 880L1034.8 878.2L1035 878.1L1035.3 878.5L1035.6 882.4L1036 935.4L1037 1475.4L1037.8 1475.4L1038.6 1256.2L1039 1227.6L1039.3 1225.6L1039.6 1225.4L1039.8 1225.5L1040 1226.6L1040.3 1232.1L1040.6 1247.7L1041 1344.8L1041.3 1450L1041.6 1475.4L1057 1475.4L1057.3 1458.9L1057.8 1321.6L1058.3 1285.8L1058.6 1282.8L1058.8 1282.4L1059 1282.4L1059.3 1283.2L1059.6 1287.5L1059.8 1300.8L1060.3 1388.9L1060.6 1475.4L1060.8 1475.4L1061 1465.3L1061.3 1286.1L1061.8 1109.3L1062.3 1063L1062.6 1059L1062.8 1058.5L1063 1058.5L1063.3 1059.4L1063.6 1064.7L1064 1119.2L1064.8 1475.4L1065.3 1475.4L1066 1301.4L1066.3 1284.9L1066.6 1279.1L1066.8 1278L1067 1277.9L1067.3 1278.1L1067.6 1280.3L1068 1310.3L1068.8 1475.4L1074.3 1475.4L1075 1355.4L1075.3 1345.4L1075.6 1342.6L1075.8 1342.3L1076 1342.3L1076.3 1343.2L1076.6 1348.1L1076.8 1362.7L1077.3 1457.7L1077.6 1475.4L1078.3 1475.4L1079 1274.4L1079.3 1258.2L1079.6 1252.6L1079.8 1251.4L1080 1251.4L1080.3 1251.6L1080.6 1254L1081 1285.8L1081.8 1475.4L1083 1475.4L1083.8 1369.9L1084 1361.6L1084.3 1359.6L1084.6 1359.4L1084.8 1359.5L1085 1360.8L1085.3 1367.1L1085.6 1384.8L1086 1475.4L1092.3 1475.4L1093 1320.7L1093.3 1302.5L1093.6 1295.9L1093.8 1294.5L1094 1294.4L1094.3 1294.6L1094.6 1296.6L1095 1326.1L1095.6 1449.9L1095.8 1475.4L1096 1475.4L1096.8 1141.2L1097.3 1096.2L1097.6 1092.3L1097.8 1091.8L1098 1091.8L1098.3 1092.7L1098.6 1097.8L1099 1150.8L1099.8 1475.4L1100.8 1475.4L1101.3 1334.9L1101.8 1293.8L1102 1290.2L1102.3 1289.6L1102.6 1289.7L1102.8 1290.3L1103 1294.4L1103.3 1307.5L1104 1475.4L1105.3 1475.4L1106 1132.7L1106.6 1075.9L1106.8 1070.3L1107 1069.4L1107.3 1069.4L1107.6 1069.9L1107.8 1074.1L1108.3 1122.3L1109 1475.4L1109.3 1475.4L1109.6 1461.8L1109.8 1369.5L1110.3 1290.3L1110.6 1279.5L1110.8 1276.4L1111 1276.1L1111.3 1276.1L1111.6 1276.9L1111.8 1281.9L1112 1296.9L1112.8 1475.4L1116.8 1475.4L1117.6 1396L1117.8 1388.1L1118 1386.3L1118.3 1386.1L1118.6 1386.2L1118.8 1387.9L1119 1395.2L1119.8 1475.4L1125 1475.4L1125.3 1467.6L1125.8 1389L1126 1378.4L1126.3 1375.5L1126.6 1375.1L1126.8 1375.2L1127 1376.1L1127.3 1381.4L1127.6 1397.2L1128 1475.4L1128.8 1475.4L1129.6 1271.3L1129.8 1253.9L1130 1247.9L1130.3 1246.7L1130.6 1246.7L1130.8 1246.9L1131 1249.5L1131.6 1283.4L1132.3 1475.4L1133.6 1475.4L1134 1388.6L1134.3 1371.6L1134.6 1365.7L1134.8 1364.6L1135 1364.5L1135.3 1364.8L1135.6 1367.4L1135.8 1377.3L1136.6 1475.4L1155.3 1475.4L1156.3 918.1L1156.8 864.3L1157 860.9L1157.3 860.7L1157.6 860.9L1157.8 864.3L1158.3 918.1L1159.3 1475.4L1185.3 1475.4" stroke="#10357a" stroke-width="7" stroke-dasharray="43.85 25" stroke-dashoffset="0.0"/>
<path d="M1185.3 1475.4L1209.3 1475.4L1210 1154L1210.3 1096.5L1210.6 1064L1210.8 1056.5L1211.3 1116.5L1212.3 1457.4L1213 855.5L1213.8 422.4L1214.6 158L1214.8 107.4L1215.3 62.4L1215.6 68L1216 135.5L1216.8 377.4L1218.6 1448L1219.3 1140.5L1219.6 1088L1219.8 1060.5L1220 1058L1220.6 1128L1221.6 1475.4L1245.3 1475.4" stroke="#10357a" stroke-width="7" stroke-dasharray="43.85 25" stroke-dashoffset="57.2"/>
<path d="M1245.3 1475.4L1271.6 1475.4L1272.3 944.8L1272.8 868.1L1273 861.6L1273.3 860.7L1273.6 860.7L1273.8 862.2L1274 871L1274.6 961.2L1275.3 1475.4L1294.3 1475.4L1294.8 1385L1295 1370.2L1295.3 1365.4L1295.6 1364.6L1295.8 1364.5L1296 1365L1296.3 1368.3L1296.6 1379.9L1297 1463.3L1297.3 1475.4L1298.3 1475.4L1298.6 1470.3L1298.8 1362.6L1299.3 1266.5L1299.6 1252.1L1299.8 1247.5L1300 1246.7L1300.3 1246.7L1300.6 1247.2L1300.8 1250.6L1301.3 1290.9L1301.8 1444.4L1302 1475.4L1302.6 1475.4L1303.3 1386L1303.6 1377.4L1303.8 1375.3L1304 1375.1L1304.3 1375.2L1304.6 1376.7L1304.8 1383.4L1305.6 1475.4L1310 1475.4" stroke="#10357a" stroke-width="7" stroke-dasharray="43.85 25" stroke-dashoffset="6.8"/>
<path d="M1310 1475.4L1311 1475.4L1311.6 1401.1L1311.8 1389.8L1312 1386.5L1312.3 1386.1L1312.6 1386.1L1312.8 1387L1313 1391.7L1313.3 1406.4L1313.8 1475.4L1317.8 1475.4L1318.6 1307.6L1319 1278.2L1319.3 1276.2L1319.6 1276.1L1319.8 1276.1L1320 1277.7L1320.6 1303.7L1321.3 1475.4L1321.6 1475.4L1322.3 1144.4L1322.8 1078.1L1323 1070.9L1323.3 1069.5L1323.6 1069.4L1323.8 1069.7L1324 1072.7L1324.6 1113.4L1325 1278.1L1325.3 1449.1L1325.6 1475.4L1326.6 1475.4L1327.3 1317.1L1327.8 1291.2L1328 1289.7L1328.3 1289.6L1328.6 1289.8L1328.8 1291.7L1329.3 1320.8L1330 1475.4L1330.8 1475.4L1331.8 1125.6L1332.3 1093.9L1332.6 1091.9L1332.8 1091.8L1333 1091.9L1333.3 1093.9L1333.8 1125.6L1334.8 1475.4L1335 1475.4L1335.8 1311.2L1336 1298.8L1336.3 1295L1336.6 1294.4L1336.8 1294.4L1337 1295L1337.3 1298.9L1337.6 1311.5L1338.3 1475.4L1344.6 1475.4L1345.3 1372.4L1345.6 1362.4L1345.8 1359.7L1346 1359.4L1346.3 1359.4L1346.6 1360.4L1346.8 1365.5L1347 1380.6L1347.6 1475.4L1348.8 1475.4L1349 1461.1L1349.3 1360.1L1349.8 1270L1350 1256.4L1350.3 1252.1L1350.6 1251.4L1350.8 1251.4L1351 1251.8L1351.3 1255.1L1351.8 1292.8L1352.6 1475.4L1353.3 1475.4L1353.8 1373.1L1354.3 1344.4L1354.6 1342.5L1354.8 1342.3L1355 1342.4L1355.3 1343.8L1355.6 1350.1L1355.8 1367.9L1356.3 1475.4L1362 1475.4L1362.3 1381.3L1362.8 1295.3L1363 1282.6L1363.3 1278.5L1363.6 1277.9L1363.8 1277.9L1364 1278.4L1364.3 1281.7L1364.6 1293L1365 1372.6L1365.3 1463.8L1365.6 1475.4L1365.8 1475.4L1366.6 1143.3L1367 1069.5L1367.3 1060.7L1367.6 1058.6L1367.8 1058.5L1368 1058.6L1368.3 1060.7L1368.6 1069.5L1369 1143.3L1369.8 1475.4L1370 1475.4L1370.8 1310.3L1371.3 1284.2L1371.6 1282.5L1371.8 1282.4L1372 1282.5L1372.3 1284.1L1372.8 1309.1L1373.6 1475.4L1389.3 1475.4L1390 1258.6L1390.6 1228L1390.8 1225.6L1391 1225.4L1391.3 1225.4L1391.6 1226.4L1391.8 1231.4L1392 1245.9L1393 1475.4L1393.8 1475.4L1394.6 960.5L1395 886.5L1395.3 879.3L1395.6 878.1L1395.8 878.1L1396 878.8L1396.3 884.2L1396.8 947.1L1397.3 1186.9L1397.6 1430.1L1397.8 1475.4L1398 1452.6L1398.3 1346.7L1398.8 1248.5L1399 1232.4L1399.3 1226.7L1399.6 1225.5L1399.8 1225.4L1400 1225.6L1400.3 1227.4L1400.8 1254.2L1401.3 1365.9L1401.6 1475.4L1402 1475.4L1402.8 1248.5L1403.3 1201.6L1403.6 1196.5L1403.8 1195.5L1404 1195.5L1404.3 1195.7L1404.6 1197.8L1405 1226.6L1405.6 1343.1L1405.8 1463.9L1406.6 1332.7L1406.8 1321.7L1407 1318.3L1407.3 1317.8L1407.6 1317.8L1407.8 1318.3L1408 1321.6L1408.6 1358.3L1409 1475.4L1430 1475.4" stroke="#10357a" stroke-width="7" stroke-dasharray="43.85 25" stroke-dashoffset="12.2"/>
<path d="M1430 1475.4L1436 1475.4L1436.8 1331.4L1437.3 1308.8L1437.6 1307.3L1438 1307.3L1438.3 1308.6L1438.6 1314.4L1438.8 1330.1L1439.6 1475.4L1440.3 1475.4L1441 1143.6L1441.6 1083.6L1441.8 1076.5L1442 1074.8L1442.3 1074.7L1442.6 1074.8L1442.8 1076.5L1443 1083.6L1443.6 1143.6L1444.3 1475.4L1447 1475.4L1447.8 1271.8L1448.3 1230L1448.6 1225.4L1448.8 1224.5L1449 1224.5L1449.3 1224.7L1449.6 1226.6L1450 1252.2L1450.6 1356.3L1450.8 1464.2L1451 1475.4L1465 1475.4L1465.8 1386.4L1466 1377.4L1466.3 1374.7L1466.6 1374.3L1466.8 1374.3L1467 1374.8L1467.3 1377.8L1467.6 1387.6L1468.3 1475.4L1469 1475.4L1469.8 1298.9L1470.3 1259.6L1470.6 1255.4L1470.8 1254.5L1471 1254.5L1471.3 1254.7L1471.6 1256.5L1472 1280.5L1472.6 1378L1472.8 1475.4L1473 1475.4L1473.3 1456.9L1473.8 1380.2L1474 1367.9L1474.3 1363.7L1474.6 1362.8L1474.8 1362.8L1475 1363L1475.3 1364.7L1475.8 1388.2L1476.3 1475.4L1478.3 1475.4L1479 1336.6L1479.6 1311.8L1479.8 1309.9L1480 1309.7L1480.3 1309.7L1480.6 1310.4L1480.8 1314.2L1481 1325.4L1481.6 1397.2L1481.8 1475.4L1482.6 1475.4L1483.3 1236.2L1483.8 1186.1L1484 1179.6L1484.3 1177.9L1484.6 1177.7L1484.8 1177.7L1485 1178.5L1485.3 1182.6L1485.8 1220.2L1486.6 1473.8L1486.8 1475.4L1500.3 1475.4L1501 1262.7L1501.6 1229.5L1501.8 1226.1L1502 1225.4L1502.3 1225.4L1502.6 1225.6L1502.8 1227.4L1503.3 1250.7L1503.8 1342.7L1504 1437.2L1504.3 1475.4L1504.6 1475.4L1504.8 1415.4L1505.6 835.9L1506 745L1506.3 734.2L1506.6 731.7L1506.8 731.5L1507 731.7L1507.3 734.2L1507.6 745L1508 835.9L1508.8 1415.4L1509 1475.4L1512.8 1475.4L1513.8 1077.5L1514.3 1031.5L1514.6 1026.5L1514.8 1025.5L1515 1025.5L1515.3 1025.7L1515.6 1027.8L1515.8 1035.8L1516.3 1097.1L1517 1468.5L1517.3 1475.4L1518 1475.4L1518.8 1287.8L1519.3 1260.9L1519.6 1258.4L1519.8 1258L1520 1258L1520.3 1258.3L1520.6 1260.6L1521 1286L1521.6 1381.3L1521.8 1475.4L1527.6 1475.4L1528.3 1285.6L1528.8 1253.7L1529 1250.2L1529.3 1249.5L1529.6 1249.5L1529.8 1249.6L1530 1251.1L1530.6 1270.6L1531.6 1475.4L1537.6 1475.4L1538.3 1339.5L1538.8 1317.2L1539 1315.3L1539.3 1315L1539.6 1315L1539.8 1315.4L1540 1318L1540.6 1344.2L1541.3 1475.4L1551.8 1475.4L1552.6 1405.7L1552.8 1399.5L1553 1397.8L1553.3 1397.5L1553.6 1397.5L1553.8 1397.9L1554 1400.4L1554.3 1408L1555 1475.4L1555.6 1475.4L1556.3 1360L1556.8 1345.5L1557 1344.6L1557.3 1344.5L1557.6 1344.6L1557.8 1345.5L1558.3 1360L1559 1475.4L1559.8 1475.4L1560 1472.2" stroke="#10357a" stroke-width="7" stroke-dasharray="43.85 25" stroke-dashoffset="56.9"/>
<path d="M1560 1472.2L1560 1472.2L1560.6 1429.2L1560.8 1423.1L1561 1421.3L1561.3 1421.1L1561.6 1421.1L1561.8 1421.4L1562 1423.7L1562.3 1430.8L1562.8 1475.4L1563.6 1475.4L1564.6 1238.1L1565 1206.4L1565.3 1202.6L1565.6 1201.8L1565.8 1201.7L1566 1201.8L1566.3 1202.6L1566.6 1206.4L1567 1238.1L1568 1475.4L1582.3 1475.4L1582.8 1321.6L1583.3 1235.8L1583.8 1210.8L1584 1208.1L1584.3 1207.5L1584.6 1207.5L1584.8 1207.6L1585 1208.7L1585.3 1213.1L1585.8 1246.5L1586.6 1448.7L1586.8 1437.4L1587 1390.3L1587.6 1348.4L1587.8 1342.2L1588 1340.2L1588.3 1339.9L1588.8 1340.1L1589 1341.7L1589.6 1360.1L1589.8 1385.4L1590.3 1475.4L1594.6 1475.4L1595.3 1356.8L1595.8 1332.5L1596 1329.9L1596.3 1329.3L1596.6 1329.3L1596.8 1329.4L1597 1330.4L1597.6 1344.4L1598 1401.9L1598.3 1461.8L1598.6 1475.4L1599.3 1475.4L1599.8 1320.5L1600.3 1241.7L1600.8 1218.7L1601 1216.2L1601.3 1215.7L1601.6 1215.7L1601.8 1215.8L1602 1216.8L1602.3 1220.8L1602.8 1251.5L1603.6 1437.2L1603.8 1444.7L1604 1389.9L1604.6 1337.9L1605 1325.6L1605.3 1324.8L1605.8 1324.8L1606 1325.4L1606.3 1328.3L1606.8 1353L1607.6 1475.4L1628 1475.4L1628.8 1298.4L1629.8 1200L1630.6 1097.5L1631 1077.9L1631.6 1069.7L1632.3 1065.8L1633 1063.5L1633.6 1062.6L1634.3 1061.7L1635 1061.1L1635.8 1060.7L1636.3 1060.9L1636.8 1062.4L1637.6 1067.5L1638 1087.5L1638.6 1181.7L1639 1394.6L1639.8 1475.4L1640.6 1475.4L1641.6 1328.7L1642 1313L1642.3 1311.5L1642.8 1311.2L1643 1311.3L1643.3 1312.5L1643.6 1316.4L1644 1344.4L1644.8 1475.4L1648.8 1475.4L1649.6 1377.7L1650 1363.1L1650.3 1361.7L1650.8 1361.4L1651 1361.6L1651.3 1362.7L1651.8 1375.7L1652.3 1424.7L1652.6 1474.3L1652.8 1475.4L1653.8 1290.2L1654.3 1267.6L1654.6 1264.6L1654.8 1263.9L1655 1263.8L1655.3 1263.8L1655.6 1264.2L1655.8 1266L1656 1271.3L1656.6 1304.7L1657.3 1475.4L1663 1475.4L1664 1355L1664.6 1341.6L1664.8 1340.3L1665.3 1340.1L1665.6 1340.3L1665.8 1341.3L1666.3 1353.1L1666.8 1397.9L1667.3 1475.4L1667.8 1475.4L1668 1450.8L1668.8 1249.7L1669.3 1207L1669.8 1195.8L1670 1194.8L1670.3 1194.7L1670.8 1194.9L1671 1196.2L1671.3 1200.2L1671.8 1227L1672.3 1304.1L1672.8 1473.3L1673 1475.4L1679.3 1475.4L1679.6 1462.9L1680 1295.2L1680.6 1217.2L1681 1189.1L1681.3 1184.7L1681.6 1183.1L1681.8 1182.8L1682 1182.8L1682.3 1182.9L1682.6 1183.5L1683 1192.2L1683.6 1227.7L1684 1320.1L1684.6 1475.4L1698.3 1475.4L1699 1290L1699.6 1221.7L1700 1197.1L1700.3 1193.2L1700.6 1191.9L1701 1191.6L1701.3 1191.7L1701.6 1192.2L1702 1199.9L1702.6 1230.9L1703 1311.7L1703.6 1475.4L1707.6 1475.4L1708.6 1175.6L1708.8 1145.3L1709.3 1116.6L1709.8 1110L1710 1109.6L1710.3 1109.6L1710.6 1109.6L1710.8 1110L1711.3 1116.6L1711.8 1145.3L1712 1175.6L1713 1475.4L1727.6 1475.4L1728.3 1388.1L1728.8 1370.7L1729 1368.1L1729.3 1367.2L1729.8 1367.1L1730 1367.2L1730.3 1367.8L1730.6 1370L1731 1385.3L1731.8 1473.4L1732 1475.4L1735 1475.4L1735.6 1290.6L1736 1188.5L1736.3 1160.4L1736.8 1132.8L1737.3 1125.5L1737.6 1124.9L1737.8 1124.8L1738.3 1124.9L1738.6 1125.8L1738.8 1128.4L1739.3 1145.7L1739.6 1165.1L1740 1241L1740.8 1475.4L1753 1475.4" stroke="#10357a" stroke-width="7" stroke-dasharray="43.85 25" stroke-dashoffset="0.0"/>
<path d="M1753 1475.4L1766.6 1475.4L1767.3 1430.5L1767.8 1423.2L1768 1422.4L1768.6 1422.2L1768.8 1422.2L1769 1422.6L1769.3 1423.8L1769.8 1433.6L1770.6 1475.4L1785 1475.4L1785.3 1444.2L1786 1230.5L1786.6 1163.6L1786.8 1144.8L1787.3 1125.7L1787.8 1120.5L1788 1120L1788.3 1119.9L1788.8 1120L1789 1120.7L1789.6 1126.8L1790.3 1168.3L1791 1296.3L1791.6 1465L1791.8 1475.4L1803.3 1475.4L1804 1286.7L1804.6 1218.7L1805.3 1175.2L1805.8 1167.2L1806 1166.1L1806.6 1165.7L1807 1165.9L1807.3 1166.6L1807.8 1172.7L1808.6 1209.6L1809 1269.7L1809.8 1451.4L1810 1475.4L1817.6 1475.4L1817.8 1474.9L1818.6 1438.5L1819 1432L1819.3 1431.1L1819.8 1430.8L1820.3 1431.1L1820.6 1432L1821 1438.5L1821.8 1474.9L1822 1475.4L1841.6 1475.4L1842.3 1416.3L1842.8 1392.3L1843.3 1381.9L1843.8 1379L1844.3 1378.7L1844.8 1379L1845.3 1381.9L1845.8 1392.3L1846.3 1416.3L1847 1475.4L1865 1475.4L1865.3 1468.4L1865.8 1424L1866.3 1397.8L1867 1381.4L1867.6 1378.9L1868 1378.7L1868.3 1378.8L1868.6 1379.1L1869 1382.5L1869.6 1392.7L1870 1414.4L1870.8 1475.4L1892.6 1475.4L1893.8 1281.8L1894.6 1208.1L1895 1178.2L1895.6 1160.1L1896.3 1148.4L1896.6 1147.2L1896.8 1146.7L1897 1146.6L1897.6 1146.9L1897.8 1147.8L1898.6 1157.6L1899 1173.7L1899.6 1201L1900.6 1301.4L1901.6 1475.4L1909 1475.4L1910.3 1440.4L1910.8 1435.3L1911 1434.3L1911.3 1433.9L1911.6 1433.9L1911.8 1434L1912 1434.6L1912.3 1435.9L1912.8 1442.1L1913.8 1475.4L1931 1475.4L1932.6 1295.7L1933.6 1212.1L1934 1183.8L1934.8 1155.8L1935.6 1142.2L1935.8 1140.2L1936.3 1138.8L1936.6 1138.8L1936.8 1139.3L1937 1140.5L1937.6 1146.2L1938.3 1165.1L1938.8 1186.3L1939.6 1233.2L1940.3 1300.9L1941.6 1466.2L1941.8 1475.4L1943 1475.4L1943.3 1471.7L1944.8 1260.7L1946 1148.7L1947.3 1087.6L1948 1071.7L1948.3 1069.3L1948.6 1068L1948.8 1067.7L1949 1068L1949.3 1069.3L1949.6 1071.7L1950.3 1087.6L1951.6 1148.7L1952.8 1260.7L1954.3 1471.7L1954.6 1475.4L1956.6 1475.4L1956.8 1470.1L1958 1348.5L1959.6 1243.9L1960.3 1208.1L1961 1183.3L1961.8 1169L1962 1166.6L1962.3 1165.2L1962.6 1164.9L1963 1167.4L1963.3 1170.3L1964 1186L1965.3 1235.8L1966.8 1336L1968.3 1475.4L1969.6 1475.4L1971.8 1379.8L1972.8 1347.7L1973.8 1322.7L1974.6 1308.6L1975.3 1298.5L1976 1292.5L1976.3 1291.4L1976.8 1290.5L1977.3 1291.4L1977.8 1294.1L1978.6 1301.4L1979.3 1312.8L1980.3 1334.3L1982 1389L1984 1475.4L1990.8 1475.4L1993.3 1339.4L1995.6 1250L1996.6 1221.9L1997.8 1196.7L1998.8 1184.6L1999.3 1181.2L1999.8 1179.6L2000 1179.5L2000.6 1180.6L2001 1183.4L2002.3 1198.3L2003.3 1218.3L2004.6 1253.2L2006.6 1332.3L2009 1471.2L2009.3 1475.4L2019.6 1475.4L2022 1298.3L2024.3 1183.6L2025.6 1139.7L2026.6 1114.7L2027.8 1096.3L2028.3 1092.9L2028.8 1091.8L2029.3 1092.9L2029.8 1096.3L2031 1114.7L2032 1139.7L2033.3 1183.6L2035.6 1298.3L2038 1475.4L2095.3 1475.4L2095.6 1474.9L2100.3 1427.3L2103.3 1393.9L2106 1371.2L2106.8 1366.9L2107.8 1362.6L2109 1357.9L2110.3 1354.2L2111.8 1351.2L2113.6 1349.4L2115.3 1348L2116.8 1347.2L2118 1347L2118.8 1347.5L2119.6 1348.7L2124 1360.9L2131.8 1384.3L2134.3 1390.8L2137 1396.3L2139.3 1400L2141.8 1403.1L2145.3 1406.4" stroke="#10357a" stroke-width="7" stroke-dasharray="43.85 25" stroke-dashoffset="9.6"/>
</g>
<text class="tick" y="94.0"><tspan x="213.0">0</tspan></text>
<text class="tick" y="376.7"><tspan class="hy" x="183.2" dy="-3.8" textLength="26.8" lengthAdjust="spacingAndGlyphs">-</tspan><tspan x="211.0" y="376.7">5</tspan></text>
<text class="tick" y="659.4"><tspan class="hy" x="141.2" dy="-3.8" textLength="26.8" lengthAdjust="spacingAndGlyphs">-</tspan><tspan x="169.0" y="659.4">10</tspan></text>
<text class="tick" y="942.0"><tspan class="hy" x="139.2" dy="-3.8" textLength="26.8" lengthAdjust="spacingAndGlyphs">-</tspan><tspan x="167.0" y="942.0">15</tspan></text>
<text class="tick" y="1224.7"><tspan class="hy" x="141.2" dy="-3.8" textLength="26.8" lengthAdjust="spacingAndGlyphs">-</tspan><tspan x="169.0" y="1224.7">20</tspan></text>
<text class="tick" y="1507.4"><tspan class="hy" x="139.2" dy="-3.8" textLength="26.8" lengthAdjust="spacingAndGlyphs">-</tspan><tspan x="167.0" y="1507.4">25</tspan></text>
<text class="tick" y="1586.0"><tspan class="hy" x="226.8" dy="-3.8" textLength="26.8" lengthAdjust="spacingAndGlyphs">-</tspan><tspan x="256.0" y="1586.0">90</tspan></text>
<text class="tick" y="1586.0"><tspan class="hy" x="536.8" dy="-3.8" textLength="26.8" lengthAdjust="spacingAndGlyphs">-</tspan><tspan x="566.0" y="1586.0">60</tspan></text>
<text class="tick" y="1586.0"><tspan class="hy" x="846.8" dy="-3.8" textLength="26.8" lengthAdjust="spacingAndGlyphs">-</tspan><tspan x="876.0" y="1586.0">30</tspan></text>
<text class="tick" y="1586.0"><tspan x="1193.4">0</tspan></text>
<text class="tick" y="1586.0"><tspan x="1481.4">30</tspan></text>
<text class="tick" y="1586.0"><tspan x="1791.4">60</tspan></text>
<text class="tick" y="1586.0"><tspan x="2101.4">90</tspan></text>
<text class="lab" transform="translate(102.5 1003.9) rotate(-90)">Pattern <tspan class="par" dy="-2.2">(</tspan><tspan dy="2.2">dB</tspan><tspan class="par" dy="-2.2">)</tspan></text>
<text class="lab" y="1708"><tspan x="1125.5" font-style="italic" font-size="96">θ</tspan><tspan> </tspan><tspan class="par" x="1197.3" y="1705.8">(</tspan><tspan class="par" x="1238.7" y="1709">°</tspan><tspan class="par" x="1268.1" y="1705.8">)</tspan></text>
<rect x="1254" y="113" width="998.5" height="180" fill="#fff" stroke="#262626" stroke-width="4"/>
<path d="M1270 161.5H1443" fill="none" stroke="#ff485b" stroke-width="7"/>
<path d="M1270 244.5H1443" fill="none" stroke="#10357a" stroke-width="7" stroke-dasharray="43.85 25"/>
<text class="leg" x="1454.2" y="184">Parameter-Opt. Spiral Array</text>
<text class="leg" x="1454.2" y="267.6">Fermat Spiral Array</text>
</svg>
</body></html>
